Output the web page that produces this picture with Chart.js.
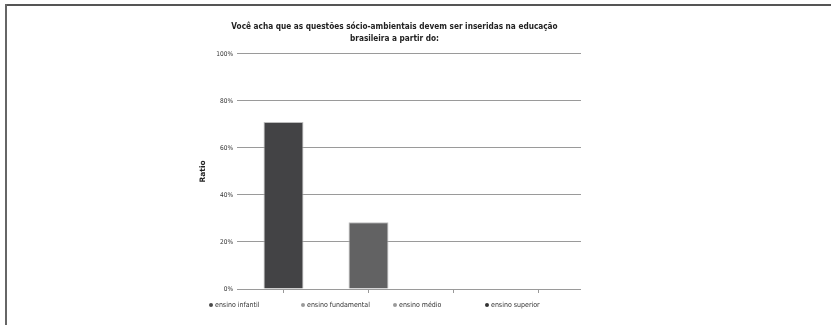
<!DOCTYPE html>
<html>
<head>
<meta charset="utf-8">
<script src="https://cdn.jsdelivr.net/npm/chart.js@4"></script>
<style>
  html, body { margin: 0; padding: 0; background: #fff; }
  .frame { position: absolute; left: 0; top: 0; width: 831px; height: 325px; overflow: hidden; }
  .frame:before { content: ""; position: absolute; left: 5px; top: 4px; right: 0; height: 2px; background: #555; }
  .frame:after { content: ""; position: absolute; left: 5px; top: 4px; width: 2px; bottom: 0; background: #666; }
  canvas { position: absolute; left: 0; top: 0; }
  .legend { position: absolute; top: 299px; left: 209px; font: 7px "DejaVu Sans Condensed", "DejaVu Sans", sans-serif; font-stretch: condensed; color: #333; }
  .legend span { position: absolute; white-space: nowrap; line-height: 12px; }
  .legend i { display: inline-block; width: 4px; height: 4px; border-radius: 50%; margin-right: 2px; vertical-align: 0px; }
</style>
</head>
<body>
<div class="frame">
  <canvas id="myChart" width="831" height="325"></canvas>
  <div class="legend" id="legend"></div>
</div>
<script>
// categories and values (share of answers)
const categories = ["ensino infantil", "ensino fundamental", "ensino médio", "ensino superior"];
const ratios = [71.0, 28.4, 0, 0];
const yTicks = [0, 20, 40, 60, 80, 100];

const barColors = ["#434345", "#626263", "#7d7d7d", "#3a3a3a"];
const legendColors = ["#4a4a4a", "#9a9a9a", "#9a9a9a", "#333333"];

const condensed = "'DejaVu Sans Condensed', 'DejaVu Sans', sans-serif";
const myChart = document.getElementById("myChart");

new Chart(myChart, {
    type: "bar",
    data: {
        labels: categories,
        datasets: [
            {
                label: "Ratio",
                data: ratios,
                backgroundColor: barColors,
                borderColor: "#bdbdbd",
                borderWidth: 1,
                barPercentage: 0.47,
                categoryPercentage: 1,
            },
        ],
    },
    options: {
        responsive: false,
        animation: false,
        layout: {
            padding: { left: 208, right: 250, top: 0, bottom: 32 },
        },
        plugins: {
            legend: { display: false },
            tooltip: { enabled: false },
            title: {
                display: true,
                text: ["Você acha que as questões sócio-ambientais devem ser inseridas na educação", "brasileira a partir do:"],
                color: "#222",
                font: { family: condensed, size: 8.2, weight: "bold", lineHeight: 1.46 },
                padding: { top: 21, bottom: 9 },
            },
        },
        scales: {
            x: {
                grid: { offset: false, drawOnChartArea: false, tickLength: 4, color: "#999" },
                border: { display: false },
                ticks: { display: false },
            },
            y: {
                min: 0,
                max: 100,
                afterBuildTicks: (axis) => { axis.ticks = yTicks.map((v) => ({ value: v })); },
                afterFit: (axis) => { axis.width = 33; },
                grid: { color: "#9a9a9a", tickLength: 4 },
                border: { display: false },
                ticks: {
                    color: "#333",
                    padding: 4,
                    font: { family: condensed, size: 6.5 },
                    callback: (v) => v + "%",
                },
                title: {
                    display: true,
                    text: "Ratio",
                    color: "#222",
                    padding: { top: -9.5, bottom: 0 },
                    font: { family: "DejaVu Sans", size: 7.5, weight: "bold" },
                },
            },
        },
    },
});

// legend in fixed columns like the original
const legendX = [0, 92, 184, 276];
const legend = document.getElementById("legend");
categories.forEach((name, i) => {
    const s = document.createElement("span");
    s.style.left = legendX[i] + "px";
    s.innerHTML = '<i style="background:' + legendColors[i] + '"></i>' + name;
    legend.appendChild(s);
});
</script>
</body>
</html>
